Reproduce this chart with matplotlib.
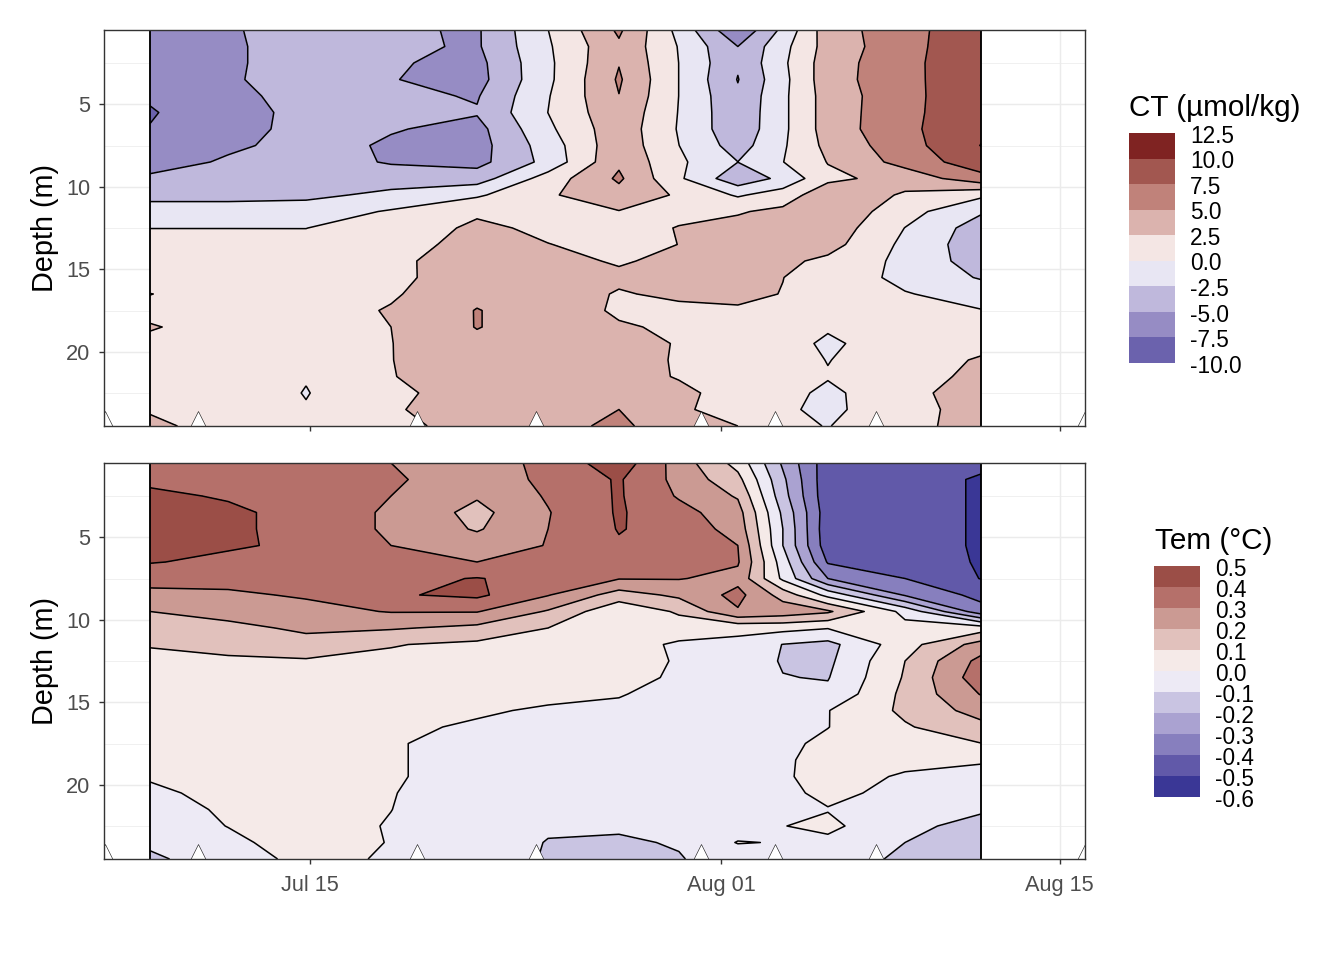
import numpy as np
import pandas as pd
import matplotlib
matplotlib.use('Agg')
import matplotlib.pyplot as plt
import matplotlib.dates as mdates
from matplotlib.colors import BoundaryNorm, ListedColormap

plt.rcParams['font.family'] = ['Liberation Sans', 'DejaVu Sans']

# grid of the sections
depths = [0.5, 1.5, 2.5, 3.5, 4.5, 5.5, 6.5, 7.5, 8.5, 9.5, 10.5, 11.5, 12.5,
          13.5, 14.5, 15.5, 16.5, 17.5, 18.5, 19.5, 20.5, 21.5, 22.5, 23.5, 24.5]
dates = ['2019-07-08 09:15', '2019-07-11 14:40', '2019-07-14 20:00', '2019-07-18 08:20',
         '2019-07-21 21:40', '2019-07-24 20:10', '2019-07-27 18:30', '2019-07-30 06:00',
         '2019-08-01 16:30', '2019-08-03 13:10', '2019-08-05 09:50', '2019-08-08 14:25',
         '2019-08-11 17:45']
sample_dates = ['2019-07-06 12:00', '2019-07-10 09:00', '2019-07-19 10:00', '2019-07-24 08:00',
                '2019-07-31 04:00', '2019-08-03 05:20', '2019-08-07 10:00', '2019-08-16 01:00']
sample_depth = 24.08

# CT, one list per date
ct_0 = [-6.3, -6.3, -6.3, -6.4, -7.35, -7.6, -7.45, -7.0, -6.7, -4.3, -2.9, -1.9, -0.02, 0.6, 0.9, 1.2, 2.55, 1.8, 2.7, 1.9, 1.8, 1.7, 1.7, 2.2, 3.2]
ct_1 = [-5.27, -5.37, -5.37, -5.3, -5.83, -6.7, -6.47, -5.65, -4.5, -3.8, -2.9, -1.9, -0.02, 0.6, 0.9, 1.1, 1.3, 1.4, 1.4, 1.3, 1.4, 1.4, 1.5, 1.7, 1.2]
ct_2 = [-3.9, -3.9, -3.9, -3.9, -3.9, -3.8, -3.8, -3.8, -3.7, -3.3, -3.0, -1.4, -0.02, 0.5, 0.8, 1.0, 1.2, 1.3, 1.2, 1.1, 0.8, 0.13, -0.1, 0.15, 1.0]
ct_3 = [-4.6, -4.5, -4.73, -4.9, -4.4, -4.4, -4.8, -5.4, -5.25, -3.5, -2.0, 0.25, 0.9, 1.2, 1.9, 1.8, 2.2, 2.7, 2.5, 2.45, 2.45, 2.4, 1.93, 2.27, 1.7]
ct_4 = [-5.3, -5.3, -5.75, -5.9, -5.2, -4.8, -5.8, -6.0, -5.8, -3.7, -0.35, 2.1, 3.0, 3.6, 3.9, 4.1, 4.4, 5.1, 5.1, 4.4, 4.1, 3.9, 3.7, 3.6, 3.6]
ct_5 = [-0.02, -0.3, -0.5, -0.5, -0.15, 0.02, -0.5, -1.3, -1.7, 1.13, 2.2, 2.0, 2.0, 2.55, 3.1, 3.4, 3.6, 3.7, 3.7, 3.6, 3.6, 3.6, 3.6, 3.7, 3.9]
ct_6 = [5.4, 4.6, 4.9, 5.3, 4.95, 4.4, 4.1, 4.2, 4.6, 5.4, 4.1, 2.4, 1.6, 1.8, 2.3, 2.9, 2.33, 2.2, 2.7, 3.1, 3.4, 3.7, 4.2, 5.0, 5.7]
ct_7 = [-0.74, -0.14, -0.02, -0.02, -0.02, -0.1, -0.2, 0.02, 0.44, 0.4, 2.2, 1.9, 2.6, 2.52, 3.0, 3.1, 2.9, 2.0, 2.2, 2.4, 2.3, 2.3, 3.2, 3.0, 3.0]
ct_8 = [-7.2, -5.0, -4.7, -5.1, -4.6, -4.4, -4.3, -3.6, -2.48, -4.2, -0.3, 2.3, 3.2, 3.4, 3.5, 3.4, 2.9, 2.3, 1.6, 1.1, 1.2, 1.3, 1.3, 1.15, 2.5]
ct_9 = [-1.9, -0.77, -0.47, -0.72, -0.54, -0.54, -0.54, -0.32, -0.05, -1.84, 1.2, 3.04, 3.4, 3.3, 3.0, 2.52, 2.45, 2.1, 1.7, 1.34, 1.4, 1.5, 0.9, 0.4, 0.67]
ct_10 = [3.9, 3.53, 3.83, 3.95, 3.63, 3.63, 3.63, 3.2, 2.6, 1.92, 4.15, 4.6, 4.05, 3.41, 1.98, 1.75, 1.5, 1.2, 0.4, -0.6, -0.1, 0.2, -0.6, -0.6, -0.1]
ct_11 = [6.4, 6.6, 6.75, 6.7, 6.7, 6.8, 6.9, 6.5, 5.9, 3.45, 2.23, 0.94, -0.04, -0.56, -0.66, -0.75, 0.16, 1.0, 1.3, 2.0, 2.0, 2.0, 2.0, 1.8, 2.2]
ct_12 = [9.8, 9.6, 9.6, 9.7, 9.6, 9.5, 9.6, 10.05, 9.0, 6.6, 0.5, -2.2, -3.7, -4.0, -3.7, -2.7, -1.1, 0.1, 1.3, 2.2, 2.6, 2.8, 3.35, 3.3, 2.9]

# temperature, one list per date
tem_0 = [0.35, 0.38, 0.42, 0.44, 0.45, 0.43, 0.405, 0.34, 0.27, 0.2, 0.15, 0.105, 0.08, 0.07, 0.06, 0.05, 0.04, 0.03, 0.02, 0.005, -0.01, -0.03, -0.05, -0.08, -0.12]
tem_1 = [0.34, 0.36, 0.39, 0.42, 0.42, 0.41, 0.38, 0.33, 0.285, 0.24, 0.17, 0.12, 0.09, 0.075, 0.065, 0.055, 0.05, 0.04, 0.03, 0.02, 0.015, 0.01, 0.002, -0.02, -0.04]
tem_2 = [0.36, 0.36, 0.37, 0.365, 0.365, 0.385, 0.37, 0.34, 0.31, 0.27, 0.22, 0.16, 0.09, 0.075, 0.065, 0.055, 0.045, 0.04, 0.035, 0.03, 0.025, 0.025, 0.02, 0.04, 0.023]
tem_3 = [0.3, 0.315, 0.3, 0.285, 0.285, 0.3, 0.33, 0.37, 0.39, 0.305, 0.21, 0.105, 0.08, 0.07, 0.05, 0.03, 0.015, 0.005, 0.005, 0.005, 0.002, 0.0005, -0.003, -0.0035, -0.0085]
tem_4 = [0.25, 0.24, 0.21, 0.17, 0.19, 0.25, 0.3, 0.405, 0.42, 0.305, 0.175, 0.08, 0.06, 0.05, 0.03, 0.01, -0.01, -0.02, -0.02, -0.02, -0.025, -0.03, -0.03, -0.035, -0.04]
tem_5 = [0.327, 0.323, 0.31, 0.295, 0.3, 0.304, 0.33, 0.36, 0.305, 0.19, 0.1, 0.07, 0.06, 0.05, 0.02, -0.01, -0.02, -0.03, -0.03, -0.04, -0.05, -0.06, -0.085, -0.105, -0.11]
tem_6 = [0.46, 0.41, 0.41, 0.41, 0.405, 0.39, 0.37, 0.305, 0.155, 0.02, 0.03, 0.04, 0.03, 0.02, 0.003, -0.01, -0.02, -0.03, -0.03, -0.05, -0.06, -0.07, -0.09, -0.11, -0.13]
tem_7 = [0.255, 0.27, 0.29, 0.335, 0.364, 0.35, 0.36, 0.305, 0.22, 0.114, 0.05, -0.014, -0.006, -0.009, -0.017, -0.02, -0.03, -0.035, -0.04, -0.05, -0.06, -0.07, -0.08, -0.094, -0.105]
tem_8 = [0.065, 0.13, 0.19, 0.24, 0.26, 0.3, 0.31, 0.27, 0.33, 0.29, 0.03, -0.03, -0.04, -0.04, -0.04, -0.04, -0.05, -0.05, -0.05, -0.05, -0.05, -0.05, -0.05, 0.005, -0.06]
tem_9 = [-0.215, -0.18, -0.16, -0.12, -0.1, -0.1, -0.05, -0.02, 0.16, 0.26, 0.03, -0.102, -0.108, -0.097, -0.07, -0.05, -0.03, -0.02, -0.012, -0.01, -0.02, -0.03, -0.002, -0.005, -0.05]
tem_10 = [-0.46, -0.47, -0.47, -0.46, -0.47, -0.46, -0.41, -0.3, -0.03, 0.216, 0.005, -0.13, -0.12, -0.105, -0.08, -0.003, -0.002, 0.02, 0.03, 0.03, 0.02, -0.004, 0.02, -0.02, -0.03]
tem_11 = [-0.48, -0.48, -0.48, -0.48, -0.48, -0.48, -0.47, -0.4, -0.31, -0.03, 0.03, 0.06, 0.1, 0.11, 0.125, 0.12, 0.09, 0.05, 0.02, -0.008, -0.024, -0.03, -0.07, -0.1, -0.126]
tem_12 = [-0.49, -0.505, -0.505, -0.505, -0.505, -0.505, -0.505, -0.503, -0.43, -0.36, 0.05, 0.24, 0.33, 0.36, 0.305, 0.24, 0.17, 0.098, 0.01, -0.03, -0.05, -0.085, -0.14, -0.15, -0.17]

# contour levels, low to high
ct_levels = [-10.0, -7.5, -5.0, -2.5, 0.0, 2.5, 5.0, 7.5, 10.0, 12.5]
ct_colors = ['#6b62ad', '#968cc4', '#bfb8dc', '#e8e6f3', '#f4e6e4', '#dbb3ae', '#c0827a', '#a25750', '#7f2322']
tem_levels = [-0.6, -0.5, -0.4, -0.3, -0.2, -0.1, 0.0, 0.1, 0.2, 0.3, 0.4, 0.5]
tem_colors = ['#3a3796', '#6159a9', '#877fbe', '#aaa2d1', '#c9c4e2', '#edeaf5', '#f5eae8', '#e1c1bc', '#cb9a93', '#b5706a', '#9b4e47']

tick_dates = ['2019-07-15', '2019-08-01', '2019-08-15']
tick_labels = ['Jul 15', 'Aug 01', 'Aug 15']
depth_major = [5, 10, 15, 20]
depth_minor = [2.5, 7.5, 12.5, 17.5, 22.5]

W, H = 1344, 960
x = mdates.date2num(pd.to_datetime(dates))
xs = mdates.date2num(pd.to_datetime(sample_dates))
xt = mdates.date2num(pd.to_datetime(tick_dates))
x_left = mdates.date2num(pd.Timestamp('2019-07-06 11:30'))
x_right = mdates.date2num(pd.Timestamp('2019-08-16 01:00'))


def px_axes(fig, left, top, right, bottom):
    return fig.add_axes([left / W, 1 - bottom / H, (right - left) / W, (bottom - top) / H])


def section(ax, z, levels, colors, show_labels):
    ax.contourf(x, depths, z, levels=levels, colors=colors, zorder=2)
    ax.contour(x, depths, z, levels=levels, colors='black', linewidths=1.15, linestyles='solid', zorder=3)
    ax.axvline(x[0], color='black', lw=1.4, zorder=4)
    ax.axvline(x[-1], color='black', lw=1.4, zorder=4)
    ax.plot(xs, [sample_depth] * len(xs), '^', ms=12, mfc='white', mec='black', mew=0.4, zorder=5)
    ax.set_xlim(x_left, x_right)
    ax.set_ylim(24.5, 0.5)
    ax.set_yticks(depth_major)
    ax.set_yticks(depth_minor, minor=True)
    ax.set_xticks(xt)
    ax.set_xticklabels(tick_labels if show_labels else [])
    ax.grid(True, which='major', color='#ebebeb', lw=1.1, zorder=0)
    ax.grid(True, which='minor', axis='y', color='#ebebeb', lw=0.55, zorder=0)
    ax.set_axisbelow(True)
    ax.tick_params(which='major', color='#333333', width=1.05, length=4, labelsize=16.3,
                   labelcolor='#4d4d4d')
    ax.tick_params(axis='x', pad=8)
    ax.tick_params(axis='y', pad=6.5)
    ax.tick_params(which='minor', length=0)
    ax.set_ylabel('Depth (m)', fontsize=21.7, color='black')
    ax.yaxis.set_label_coords(-45 / 981, 0.5)
    for s in ax.spines.values():
        s.set_color('#333333')
        s.set_linewidth(1.05)
        s.set_zorder(6)


def legend(fig, left, top, right, bottom, levels, colors, labels, title, title_x, title_y):
    ax = px_axes(fig, left, top, right, bottom)
    cmap = ListedColormap(colors)
    norm = BoundaryNorm(levels, cmap.N)
    rows = np.arange(len(levels))
    ax.pcolormesh([0, 1], rows, np.array(levels[:-1]).reshape(-1, 1) + 1e-6, cmap=cmap, norm=norm)
    ax.set_xticks([])
    ax.set_yticks([])
    ax.set_ylim(rows[0], rows[-1])
    step = (bottom - top) / (len(levels) - 1)
    for i, lab in enumerate(labels):
        fig.text((right + 15) / W, 1 - (bottom - i * step + 3.2) / H, lab, fontsize=17,
                 color='black', ha='left', va='center')
    for s in ax.spines.values():
        s.set_visible(False)
    fig.text(title_x / W, 1 - title_y / H, title, fontsize=22.3, color='black', ha='left', va='center')


fig = plt.figure(figsize=(14, 10), dpi=96)

ax_top = px_axes(fig, 104, 30, 1085, 426)
ct_z = np.column_stack([ct_0, ct_1, ct_2, ct_3, ct_4, ct_5, ct_6, ct_7, ct_8, ct_9, ct_10, ct_11, ct_12])
section(ax_top, ct_z, ct_levels, ct_colors, False)

ax_bot = px_axes(fig, 104, 463, 1085, 859)
tem_z = np.column_stack([tem_0, tem_1, tem_2, tem_3, tem_4, tem_5, tem_6, tem_7, tem_8, tem_9, tem_10, tem_11, tem_12])
section(ax_bot, tem_z, tem_levels, tem_colors, True)

legend(fig, 1129, 133, 1175, 363, ct_levels, ct_colors, ['%.1f' % v for v in ct_levels],
       'CT (µmol/kg)', 1129, 108)
legend(fig, 1154, 566, 1200, 797, tem_levels, tem_colors, ['%.1f' % v for v in tem_levels],
       'Tem (°C)', 1155, 541)

fig.savefig('out.png', dpi=96)
